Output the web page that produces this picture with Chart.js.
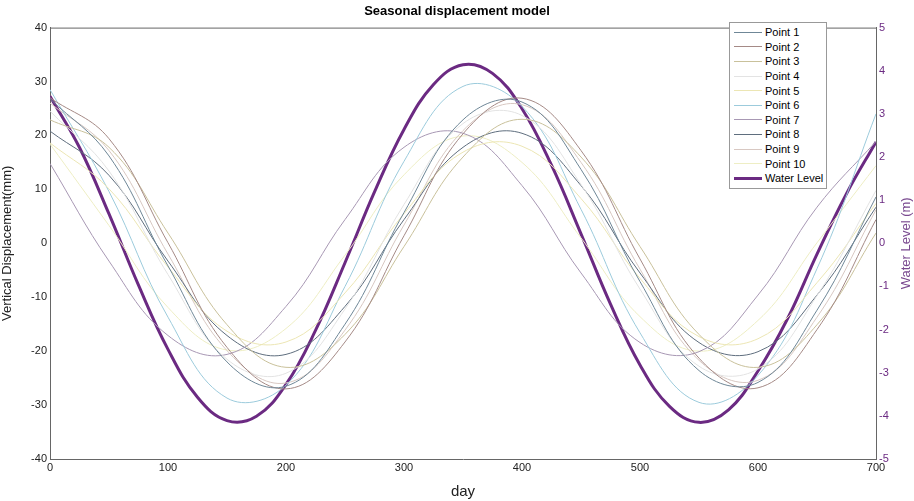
<!DOCTYPE html>
<html>
<head>
<meta charset="utf-8">
<script src="https://cdn.jsdelivr.net/npm/chart.js@4.4.0/dist/chart.umd.min.js"></script>
<style>
  body { margin: 0; background: #fff; }
  #wrap { position: relative; width: 914px; height: 501px; }
  #legend { position: absolute; left: 729px; top: 22px; width: 96px; border: 1px solid #999; background: #fff;
    font: 11px "Liberation Sans", Arial, sans-serif; padding: 2px 0; }
  #legend div { display: flex; align-items: center; height: 14.6px; }
  #legend span.sw { display: inline-block; width: 28px; margin: 0 3px 0 4px; }
</style>
</head>
<body>
<div id="wrap">
  <canvas id="c" width="914" height="501"></canvas>
  <div id="legend"></div>
</div>
<script>
// giorni per le serie dei punti (ogni 50 giorni)
const days = [0, 50, 100, 150, 200, 250, 300, 350, 400, 450, 500, 550, 600, 650, 700];
// giorni per il livello dell'acqua (ogni 25 giorni)
const waterDays = [0, 25, 50, 75, 100, 125, 150, 175, 200, 225, 250, 275, 300, 325, 350, 375, 400, 425, 450, 475, 500, 525, 550, 575, 600, 625, 650, 675, 700];

const point1 = [26.8, 16.2, -4.2, -22.0, -26.5, -15.0, 5.7, 22.9, 26.2, 13.7, -7.1, -23.6, -25.8, -12.4, 8.6];
const point2 = [27.0, 19.4, 0.1, -19.3, -27.0, -18.3, 1.4, 20.3, 26.9, 17.2, -2.9, -21.3, -26.8, -16.0, 4.4];
const point3 = [22.9, 17.8, 1.9, -15.1, -23.0, -16.9, -0.6, 16.0, 23.0, 16.0, -0.6, -16.9, -23.0, -15.1, 1.9];
const point4 = [24.5, 13.4, -5.8, -21.5, -24.1, -12.2, 7.2, 22.2, 23.7, 10.9, -8.5, -22.8, -23.3, -9.7, 9.8];
const point5 = [18.6, 10.1, -4.4, -16.3, -18.3, -9.2, 5.5, 16.9, 18.0, 8.3, -6.5, -17.3, -17.7, -7.3, 7.4];
const point6 = [28.5, 9.6, -13.7, -28.7, -26.3, -8.0, 15.2, 29.1, 25.4, 6.3, -16.6, -29.5, -24.5, -4.7, 24.0];
const point7 = [14.8, -3.3, -17.1, -20.6, -11.7, 4.4, 17.8, 20.4, 10.7, -5.5, -18.4, -20.1, -9.6, 6.7, 18.9];
const point8 = [20.8, 12.6, -3.3, -17.1, -20.6, -11.7, 4.4, 17.8, 20.4, 10.7, -5.5, -18.4, -20.1, -9.6, 6.7];
const point9 = [26.0, 17.2, -2.0, -19.9, -25.9, -16.1, 3.4, 20.9, 25.7, 15.0, -4.8, -21.7, -25.4, -13.7, 6.2];
const point10 = [18.4, 3.3, -11.9, -19.8, -15.8, -2.2, 12.7, 19.9, 15.0, 1.0, -13.6, -20.0, -14.3, 0.1, 14.4];
const waterLevel = [3.41, 2.22, 0.68, -0.97, -2.46, -3.57, -4.11, -4.01, -3.27, -2.02, -0.45, 1.19, 2.64, 3.68, 4.14,
  3.94, 3.12, 1.81, 0.22, -1.41, -2.82, -3.78, -4.15, -3.86, -2.96, -1.75, -0.25, 1.15, 2.35];

const pointSeries = [point1, point2, point3, point4, point5, point6, point7, point8, point9, point10];
const pointColors = ["#6f8797", "#a58a86", "#c9c19b", "#e3e3e3", "#ece6b4", "#9ccbdc", "#a898b4", "#5f6e7e", "#d8c8c2", "#eeeec4"];

const datasets = pointSeries.map((vals, i) => ({
  label: "Point " + (i + 1),
  data: days.map((d, j) => ({ x: d, y: vals[j] })),
  borderColor: pointColors[i],
  borderWidth: 1,
  yAxisID: "y"
}));
datasets.push({
  label: "Water Level",
  data: waterDays.map((d, j) => ({ x: d, y: waterLevel[j] })),
  borderColor: "#6b2a82",
  borderWidth: 3,
  yAxisID: "y2"
});

// legenda HTML
const legend = document.getElementById("legend");
datasets.forEach(ds => {
  const row = document.createElement("div");
  row.innerHTML = `<span class="sw" style="border-top:${ds.borderWidth}px solid ${ds.borderColor}"></span>${ds.label}`;
  legend.appendChild(row);
});

const font = { family: "'Liberation Sans', Arial, sans-serif", size: 11 };

new Chart(document.getElementById("c"), {
  type: "line",
  data: { datasets },
  options: {
    responsive: false,
    animation: false,
    elements: { point: { radius: 0 }, line: { tension: 0.4 } },
    plugins: {
      legend: { display: false },
      tooltip: { enabled: false },
      title: {
        display: true, text: "Seasonal displacement model", color: "#000",
        font: { family: font.family, size: 13, weight: "bold" }, padding: { top: 4, bottom: 8 }
      }
    },
    scales: {
      x: {
        type: "linear", min: 0, max: 700,
        ticks: { stepSize: 100, color: "#222", font, padding: 2 },
        grid: { display: false, drawTicks: false },
        border: { color: "#666" },
        title: { display: true, text: "day", color: "#222", font: { family: font.family, size: 15 }, padding: 0 },
        afterFit: s => { s.height = 42; }
      },
      y: {
        position: "left", min: -40, max: 40,
        ticks: { stepSize: 10, color: "#222", font },
        grid: { display: false, drawTicks: false },
        border: { color: "#666" },
        title: { display: true, text: "Vertical Displacement(mm)", color: "#222", font: { family: font.family, size: 13 }, padding: 0 },
        afterFit: s => { s.width = 50; }
      },
      y2: {
        position: "right", min: -5, max: 5,
        ticks: { stepSize: 1, color: "#6b2a82", font },
        grid: { display: false, drawTicks: false },
        border: { color: "#666" },
        afterFit: s => { s.width = 38; }
      }
    }
  },
  plugins: [{
    id: "extras",
    afterDraw(chart) {
      const { ctx, chartArea: a } = chart;
      ctx.save();
      ctx.strokeStyle = "#666";
      ctx.lineWidth = 1;
      ctx.beginPath();
      ctx.moveTo(a.left, a.top + 0.5);
      ctx.lineTo(a.right, a.top + 0.5);
      ctx.stroke();
      // titolo asse destro, letto dal basso verso l'alto
      ctx.translate(906, (a.top + a.bottom) / 2);
      ctx.rotate(-Math.PI / 2);
      ctx.fillStyle = "#7a4a90";
      ctx.font = "13px 'Liberation Sans', Arial, sans-serif";
      ctx.textAlign = "center";
      ctx.textBaseline = "middle";
      ctx.fillText("Water Level (m)", 0, 0);
      ctx.restore();
    }
  }]
});
</script>
</body>
</html>
